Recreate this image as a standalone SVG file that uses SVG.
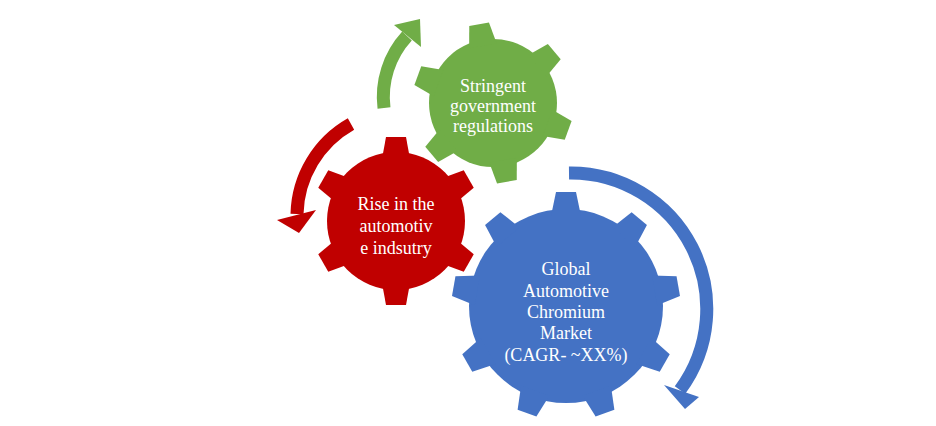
<svg xmlns="http://www.w3.org/2000/svg" width="936" height="426" viewBox="0 0 936 426">
<style>
text{font-family:"Liberation Serif","Times New Roman",serif;font-size:18px;fill:#fff;text-anchor:middle}
.g{fill:#70ad47}.r{fill:#c00000}.b{fill:#4472c4}
.arc{fill:none;stroke-width:13}
</style>
<defs>
<polygon id="tb" points="-15,-90 15,-90 10,-114 -10,-114"/>
<polygon id="tr" points="-14,-62 14,-62 10,-84 -10,-84"/>
<polygon id="tg" points="-14,-58 14,-58 10,-80 -10,-80"/>
</defs>
<rect width="936" height="426" fill="#fff"/>
<g id="connectors">
<path class="arc" stroke="#70ad47" d="M384,108 A90 90 0 0 1 407,36"/>
<polygon class="g" points="394,25 420,19 421,47"/>
<path class="arc" stroke="#c00000" stroke-width="14" d="M351,124 A106 106 0 0 0 297,214"/>
<polygon class="r" points="277,220 299,233 316,210"/>
<path class="arc" stroke="#4472c4" stroke-width="12" d="M569,173 A136 136 0 0 1 680,390"/>
<polygon class="b" points="664,385 685,409 699,397"/>
</g>
<g id="gear-green" class="g">
<circle cx="493" cy="103" r="64"/>
<g transform="translate(493,103)">
<use href="#tg" transform="rotate(-10)"/><use href="#tg" transform="rotate(50)"/><use href="#tg" transform="rotate(110)"/>
<use href="#tg" transform="rotate(170)"/><use href="#tg" transform="rotate(230)"/><use href="#tg" transform="rotate(290)"/>
</g>
<text x="493" y="92">Stringent</text>
<text x="493" y="112">government</text>
<text x="493" y="132">regulations</text>
</g>
<g id="gear-red" class="r">
<circle cx="396" cy="221" r="69"/>
<g transform="translate(396,221)">
<use href="#tr"/><use href="#tr" transform="rotate(60)"/><use href="#tr" transform="rotate(120)"/>
<use href="#tr" transform="rotate(180)"/><use href="#tr" transform="rotate(240)"/><use href="#tr" transform="rotate(300)"/>
</g>
<text x="396" y="210">Rise in the</text>
<text x="396" y="232">automotiv</text>
<text x="396" y="254">e indsutry</text>
</g>
<g id="gear-blue" class="b">
<circle cx="566" cy="306" r="97"/>
<g transform="translate(566,306)">
<use href="#tb"/><use href="#tb" transform="rotate(40)"/><use href="#tb" transform="rotate(80)"/>
<use href="#tb" transform="rotate(120)"/><use href="#tb" transform="rotate(160)"/><use href="#tb" transform="rotate(200)"/>
<use href="#tb" transform="rotate(240)"/><use href="#tb" transform="rotate(280)"/><use href="#tb" transform="rotate(320)"/>
</g>
<text x="566" y="275">Global</text>
<text x="566" y="297">Automotive</text>
<text x="566" y="318">Chromium</text>
<text x="566" y="339">Market</text>
<text x="566" y="361">(CAGR- ~XX%)</text>
</g>
</svg>
